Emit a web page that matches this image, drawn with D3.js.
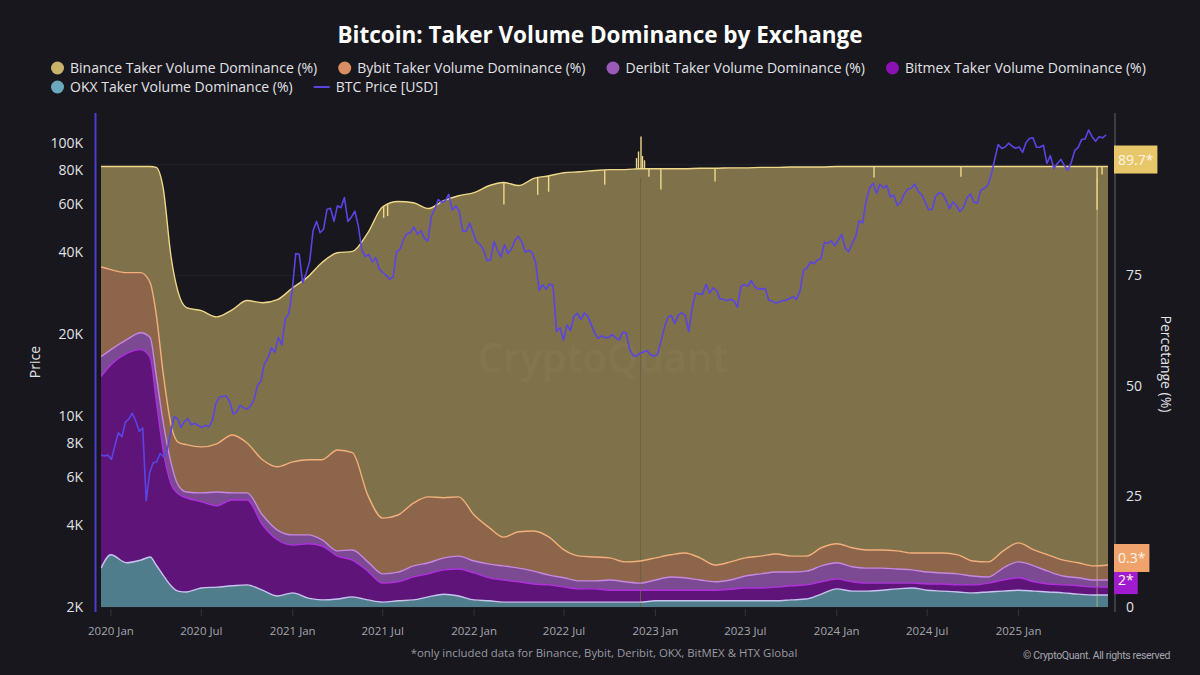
<!DOCTYPE html>
<html>
<head>
<meta charset="utf-8">
<script src="https://cdn.jsdelivr.net/npm/d3@7"></script>
<style>
    html, body { margin: 0; padding: 0; background: #17171d; }
    svg { display: block; font-family: "Open Sans", "Noto Sans", sans-serif; }
</style>
</head>
<body>
<svg id="chart" width="1200" height="675"></svg>
<script>
// ---- data ----
const domDates = [
    "2019-12-12", "2020-01-01", "2020-02-01", "2020-03-01", "2020-03-20", "2020-04-01", "2020-04-15",
    "2020-05-01", "2020-05-15", "2020-06-01", "2020-07-01", "2020-08-01", "2020-09-01", "2020-10-01",
    "2020-11-01", "2020-12-01", "2021-01-01", "2021-02-01", "2021-03-01", "2021-04-01", "2021-05-01",
    "2021-06-01", "2021-07-01", "2021-08-01", "2021-09-01", "2021-10-01", "2021-11-01", "2021-12-01",
    "2022-01-01", "2022-02-01", "2022-03-01", "2022-04-01", "2022-05-01", "2022-06-01", "2022-07-01",
    "2022-08-01", "2022-09-01", "2022-10-01", "2022-11-01", "2022-12-01", "2023-01-01", "2023-02-01",
    "2023-03-01", "2023-04-01", "2023-05-01", "2023-06-01", "2023-07-01", "2023-08-01", "2023-09-01",
    "2023-10-01", "2023-11-01", "2023-12-01", "2024-01-01", "2024-02-01", "2024-03-01", "2024-04-01",
    "2024-05-01", "2024-06-01", "2024-07-01", "2024-08-01", "2024-09-01", "2024-10-01", "2024-11-01",
    "2024-12-01", "2025-01-01", "2025-02-01", "2025-03-01", "2025-04-01", "2025-05-01", "2025-06-01",
    "2025-06-30"
];
const binance = [
    22.7, 23.3, 24.0, 24.0, 26.3, 33.1, 41.8, 38.0, 34.0, 31.0, 30.8, 28.7, 28.3, 32.2,
    35.5, 37.8, 39.4, 41.4, 44.6, 44.6, 45.5, 59.3, 70.4, 70.9, 67.9, 65.2, 67.2, 68.1,
    72.9, 77.4, 80.2, 78.3, 79.7, 81.7, 85.3, 86.9, 87.4, 87.8, 88.7, 88.7, 88.0, 87.3,
    86.9, 88.1, 89.7, 89.1, 88.2, 87.9, 87.4, 88.0, 88.0, 86.1, 85.3, 86.2, 86.7, 86.7,
    86.9, 87.4, 87.4, 87.4, 87.8, 89.2, 89.4, 86.9, 85.1, 86.7, 87.8, 89.0, 89.6, 90.3,
    90.1
];
const bybit = [
    20.3, 18.1, 15.2, 13.6, 12.4, 13.8, 11.1, 8.6, 9.7, 10.7, 10.4, 10.9, 13.1, 11.3,
    12.5, 14.3, 16.5, 17.0, 18.1, 22.8, 22.0, 15.1, 12.6, 12.9, 14.2, 14.9, 13.6, 13.4,
    10.4, 8.2, 6.5, 8.2, 9.1, 8.6, 6.3, 5.6, 5.4, 5.0, 4.5, 5.0, 5.0, 5.0,
    5.6, 5.0, 3.8, 4.1, 4.1, 4.0, 4.1, 3.6, 3.4, 4.1, 4.3, 4.3, 4.1, 4.1,
    4.1, 3.8, 4.3, 4.5, 4.3, 3.4, 3.4, 3.9, 4.3, 3.6, 3.7, 3.6, 3.4, 3.2,
    3.4
];
const deribit = [
    4.5, 3.4, 3.1, 3.8, 4.5, 5.7, 6.4, 4.8, 2.0, 1.3, 2.0, 3.1, 1.6, 1.6,
    2.2, 2.2, 2.3, 2.0, 1.4, 1.2, 2.3, 2.1, 2.1, 2.2, 2.5, 2.5, 2.7, 2.9,
    2.7, 3.1, 3.2, 3.1, 2.9, 2.2, 2.1, 1.8, 1.8, 2.3, 1.9, 1.6, 2.3, 3.0,
    2.8, 2.3, 1.9, 2.1, 2.7, 3.2, 3.4, 3.1, 3.1, 3.6, 3.7, 3.4, 3.4, 3.4,
    3.2, 3.0, 2.7, 2.5, 2.5, 2.0, 1.4, 2.7, 3.6, 3.6, 2.9, 2.0, 1.8, 1.6,
    1.6
];
const bitmex = [
    43.3, 43.0, 47.3, 47.6, 45.1, 37.3, 28.3, 23.0, 22.0, 21.3, 19.5, 18.4, 19.4, 19.2,
    14.8, 12.7, 10.8, 12.3, 12.2, 9.7, 8.3, 6.5, 4.3, 4.3, 5.2, 5.2, 5.5, 6.1,
    6.1, 5.2, 5.0, 4.6, 4.1, 3.9, 3.4, 3.0, 3.0, 2.7, 2.7, 2.7, 2.4, 2.4,
    2.4, 2.4, 2.4, 2.6, 2.9, 2.9, 3.1, 3.2, 3.2, 2.8, 2.2, 2.1, 1.8, 1.6,
    1.3, 1.1, 1.4, 1.6, 1.6, 1.8, 2.0, 2.5, 2.8, 2.1, 1.8, 1.8, 1.9, 1.8,
    1.8
];
const okx = [
    8.8, 11.8, 10.0, 10.6, 11.3, 9.5, 7.2, 4.8, 3.6, 3.4, 4.3, 4.5, 4.8, 5.0,
    3.8, 2.5, 3.2, 2.0, 1.6, 1.8, 2.3, 1.6, 1.1, 1.4, 1.6, 2.3, 2.9, 2.5,
    1.6, 1.4, 1.1, 1.1, 1.1, 1.1, 1.1, 1.1, 1.1, 1.1, 1.1, 1.1, 1.4, 1.4,
    1.4, 1.4, 1.4, 1.4, 1.4, 1.4, 1.4, 1.6, 1.8, 2.9, 4.1, 3.6, 3.6, 3.8,
    4.1, 4.3, 3.8, 3.6, 3.4, 3.2, 3.4, 3.6, 3.8, 3.6, 3.4, 3.2, 2.9, 2.7,
    2.7
];

// one-day glitches in the stacked total (%)
const spikeDates = [
    "2021-07-03", "2021-07-11", "2022-03-02", "2022-05-09", "2022-05-31", "2022-09-21",
    "2022-11-24", "2022-11-28", "2022-12-03", "2022-12-06", "2022-12-10", "2022-12-19",
    "2023-01-12", "2023-05-01", "2024-03-16", "2024-09-07", "2025-06-08", "2025-06-18"
];
const spikeValues = [
    88.0, 88.4, 91.0, 93.2, 93.9, 95.5,
    101.5, 103.0, 106.4, 102.0, 101.0, 97.3,
    94.4, 96.2, 97.1, 97.3, 89.8, 97.8
];

// BTC price, weekly closes in thousand USD, starting 2019-12-12
const priceStart = "2019-12-12";
const btcPrice = [
    // 2019 Dec
    7.2, 7.15, 7.2,
    // 2020
    6.95, 7.8, 8.7, 8.4, 9.5, 9.75, 10.25, 9.6, 8.8, 9.05, 4.9, 6.2, 6.75,
    6.8, 7.3, 7.1, 7.5, 8.65, 9.95, 9.8, 9.1, 9.55, 9.8, 9.3, 9.4, 9.25,
    9.1, 9.25, 9.15, 9.6, 11.1, 11.75, 11.8, 11.85, 11.3, 10.2, 10.35, 10.95, 10.75,
    10.6, 10.9, 11.5, 12.95, 13.45, 15.6, 16.3, 17.8, 17.15, 19.45, 18.25, 22.8, 23.7, 29.0,
    // 2021
    39.4, 39.2, 30.8, 33.4, 36.9, 47.9, 51.7, 47.0, 48.4, 57.3, 57.7, 51.7,
    59.0, 58.0, 63.2, 51.7, 53.6, 56.4, 49.7, 40.6, 38.4, 39.1, 36.7, 38.1, 34.7,
    33.6, 32.8, 31.8, 32.3, 40.0, 40.9, 44.4, 46.7, 47.0, 49.3, 46.4, 47.8, 44.9, 43.8,
    53.9, 57.4, 62.2, 60.6, 61.5, 64.9, 56.9, 58.9, 56.5, 47.6, 47.6, 51.0, 47.1,
    // 2022
    43.5, 42.6, 40.7, 37.2, 37.3, 43.6, 40.6, 38.3, 42.5, 39.4, 40.9, 43.9, 45.6,
    43.5, 39.9, 40.5, 39.7, 36.5, 28.9, 30.3, 29.2, 30.5, 30.1, 20.4, 21.1, 19.0,
    21.6, 20.6, 23.2, 23.8, 22.6, 23.9, 23.2, 21.6, 20.1, 19.3, 19.7, 19.4, 19.4,
    19.9, 19.4, 19.0, 20.3, 20.2, 17.6, 16.7, 16.6, 17.0, 17.2, 17.4, 16.8, 16.6,
    // 2023
    16.8, 18.8, 21.1, 23.0, 23.4, 21.8, 23.5, 23.9, 23.4, 20.4, 25.0, 28.3, 28.0,
    28.0, 30.4, 28.2, 29.5, 28.9, 26.9, 26.8, 26.5, 26.8, 26.5, 25.1, 29.9, 30.4,
    29.9, 31.4, 29.8, 29.2, 29.2, 29.4, 26.6, 26.4, 26.0, 26.2, 26.5, 26.6, 27.0,
    27.4, 26.8, 28.7, 34.2, 34.9, 36.7, 36.2, 37.3, 37.7, 43.3, 43.0, 43.9, 42.1,
    // 2024
    44.2, 46.3, 41.3, 40.0, 43.1, 45.3, 52.0, 51.0, 61.2, 68.3, 71.4, 65.5, 70.7,
    68.5, 70.0, 63.5, 64.5, 59.1, 60.8, 65.2, 67.9, 68.4, 70.8, 66.7, 64.8, 60.9,
    57.0, 57.3, 63.9, 65.8, 65.3, 61.7, 57.5, 61.0, 59.0, 56.2, 58.1, 63.0, 65.2,
    60.8, 60.3, 67.4, 68.2, 70.2, 76.6, 87.3, 98.9, 95.6, 96.9, 100.0, 97.5, 95.8,
    // 2025
    96.9, 92.5, 100.5, 104.0, 104.7, 96.6, 96.6, 98.3, 84.4, 90.0, 80.9, 84.2, 87.2,
    83.1, 79.6, 84.9, 93.9, 96.5, 103.2, 103.7, 111.7, 105.6, 101.6, 105.6, 104.6, 107.3
];

const priceTicks = [2000, 4000, 6000, 8000, 10000, 20000, 40000, 60000, 80000, 100000];
const pctTicks = [0, 25, 50, 75];
const gridTicks = [0, 25, 50, 75, 100];
const xTicks = ["2020-01-01", "2020-07-01", "2021-01-01", "2021-07-01", "2022-01-01", "2022-07-01",
    "2023-01-01", "2023-07-01", "2024-01-01", "2024-07-01", "2025-01-01"];
const lastLabels = { binance: "89.7*", bybit: "0.3*", bitmex: "2*" };

const series = [
    { key: "binance", name: "Binance Taker Volume Dominance (%)", fill: "#7f7149", line: "#efd88a", dot: "#c9b36b" },
    { key: "bybit", name: "Bybit Taker Volume Dominance (%)", fill: "#8c654b", line: "#f4b07c", dot: "#d98f63" },
    { key: "deribit", name: "Deribit Taker Volume Dominance (%)", fill: "#7b4a93", line: "#c887e2", dot: "#9c5ab8" },
    { key: "bitmex", name: "Bitmex Taker Volume Dominance (%)", fill: "#5f1479", line: "#b030e0", dot: "#8a12b5" },
    { key: "okx", name: "OKX Taker Volume Dominance (%)", fill: "#4f7d8b", line: "#c8c4f0", dot: "#6ca8bd" }
];
const priceColor = "#5a45e4";

// ---- setup ----
const svg = d3.select("#chart");
const parse = d3.timeParse("%Y-%m-%d");
const dates = domDates.map(parse);
const byKey = { binance, bybit, deribit, bitmex, okx };
const stackKeys = ["okx", "bitmex", "deribit", "bybit", "binance"];
const rows = dates.map((d, i) => {
    const r = { date: d };
    stackKeys.forEach(k => r[k] = byKey[k][i]);
    return r;
});
const stacked = d3.stack().keys(stackKeys)(rows);
const layer = k => stacked.find(s => s.key === k);

const plotTop = 113, plotBottom = 607, plotLeft = 101, plotRight = 1108;
const x = d3.scaleTime().domain([parse("2019-12-12"), parse("2025-06-30")]).range([plotLeft, plotRight]);
const yR = d3.scaleLinear().domain([0, 111.7]).range([plotBottom, plotTop]);
const yL = d3.scaleLog().domain([2000, 129000]).range([plotBottom, plotTop]);

svg.append("rect").attr("width", 1200).attr("height", 675).attr("fill", "#17171d");

svg.append("defs").append("clipPath").attr("id", "plotClip")
    .append("rect").attr("x", plotLeft).attr("y", plotTop - 2)
    .attr("width", plotRight - plotLeft).attr("height", plotBottom - plotTop + 2);

// grid (percent axis)
svg.append("g").selectAll("line").data(gridTicks).enter().append("line")
    .attr("x1", plotLeft).attr("x2", plotRight)
    .attr("y1", d => yR(d)).attr("y2", d => yR(d))
    .attr("stroke", "#22222a").attr("stroke-width", 1);

// stacked areas
const area = d3.area()
    .x(d => x(d.data.date)).y0(d => yR(d[0])).y1(d => yR(d[1]))
    .curve(d3.curveMonotoneX);
const topLine = d3.line()
    .x(d => x(d.data.date)).y(d => yR(d[1]))
    .curve(d3.curveMonotoneX);

const areaG = svg.append("g").attr("clip-path", "url(#plotClip)");
stackKeys.forEach(k => {
    const s = series.find(s => s.key === k);
    areaG.append("path").datum(layer(k)).attr("d", area).attr("fill", s.fill);
});

// glitch days that run through the whole stack
const fullDays = [{ date: "2022-12-02", color: "#6b6040", op: 0.9 }, { date: "2025-06-08", color: "#d8c98c", op: 0.6 }];
areaG.selectAll(".full-day").data(fullDays).enter().append("line")
    .attr("x1", d => x(parse(d.date))).attr("x2", d => x(parse(d.date)))
    .attr("y1", yR(0)).attr("y2", yR(97))
    .attr("stroke", d => d.color).attr("stroke-opacity", d => d.op).attr("stroke-width", 1);

// top lines of each band
stackKeys.slice().reverse().forEach(k => {
    const s = series.find(s => s.key === k);
    areaG.append("path").datum(layer(k)).attr("d", topLine)
        .attr("fill", "none").attr("stroke", s.line).attr("stroke-width", 1.4);
});

// spikes on the total
const totals = rows.map(r => stackKeys.reduce((a, k) => a + r[k], 0));
const bisect = d3.bisector(d => d).left;
function totalAt(date) {
    const i = Math.min(Math.max(bisect(dates, date), 1), dates.length - 1);
    const t = (date - dates[i - 1]) / (dates[i] - dates[i - 1]);
    return totals[i - 1] + (totals[i] - totals[i - 1]) * t;
}
areaG.selectAll(".spike").data(spikeDates.map((d, i) => ({ date: parse(d), v: spikeValues[i] })))
    .enter().append("line")
    .attr("class", "spike")
    .attr("x1", d => x(d.date)).attr("x2", d => x(d.date))
    .attr("y1", d => yR(totalAt(d.date))).attr("y2", d => yR(d.v))
    .attr("stroke", "#efd88a").attr("stroke-width", 1.4);

// watermark
svg.append("text").attr("x", 603).attr("y", 372).attr("text-anchor", "middle")
    .attr("font-size", 40).attr("font-weight", 600)
    .attr("fill", "#ffffff").attr("fill-opacity", 0.05)
    .text("CryptoQuant");

// BTC price
const priceData = btcPrice.map((v, i) => ({ date: d3.timeDay.offset(parse(priceStart), 7 * i), v: v * 1000 }));
svg.append("path").datum(priceData)
    .attr("clip-path", "url(#plotClip)")
    .attr("d", d3.line().x(d => x(d.date)).y(d => yL(d.v)))
    .attr("fill", "none").attr("stroke", priceColor).attr("stroke-width", 1.6)
    .attr("stroke-linejoin", "round");

// axes lines
svg.append("line").attr("x1", 95.5).attr("x2", 95.5).attr("y1", plotTop).attr("y2", plotBottom + 5)
    .attr("stroke", "#4b3dd2").attr("stroke-width", 2);
svg.append("line").attr("x1", 1115).attr("x2", 1115).attr("y1", plotTop).attr("y2", plotBottom + 5)
    .attr("stroke", "#4a4a52").attr("stroke-width", 1.5);

// left axis (price, log)
const fmtK = d => (d / 1000) + "K";
svg.append("g").selectAll("text").data(priceTicks).enter().append("text")
    .attr("x", 83).attr("y", d => yL(d)).attr("dy", "0.35em")
    .attr("text-anchor", "end").attr("font-size", 14).attr("fill", "#e2e2e6")
    .text(fmtK);
svg.append("text").attr("transform", "translate(40,362) rotate(-90)")
    .attr("text-anchor", "middle").attr("font-size", 14).attr("fill", "#e2e2e6").text("Price");

// right axis (percent)
svg.append("g").selectAll("text").data(pctTicks).enter().append("text")
    .attr("x", 1126).attr("y", d => yR(d)).attr("dy", "0.35em")
    .attr("font-size", 14).attr("fill", "#e2e2e6")
    .text(d => d);
svg.append("text").attr("transform", "translate(1161,364) rotate(90)")
    .attr("text-anchor", "middle").attr("font-size", 14).attr("fill", "#e2e2e6").text("Percetange (%)");

// x axis
const xt = svg.append("g").selectAll("g").data(xTicks.map(parse)).enter().append("g")
    .attr("transform", d => `translate(${x(d)},0)`);
xt.append("line").attr("y1", plotBottom + 2).attr("y2", plotBottom + 9).attr("stroke", "#34343c");
xt.append("text").attr("y", 635).attr("text-anchor", "middle")
    .attr("font-size", 11.5).attr("fill", "#a6a6ae")
    .text(d3.timeFormat("%Y %b"));

// last value labels
const lastIdx = rows.length - 1;
const labelOffset = -7;
const endLabels = [
    { key: "bitmex", text: lastLabels.bitmex, color: "#a21ccf" },
    { key: "bybit", text: lastLabels.bybit, color: "#f0a36c" },
    { key: "binance", text: lastLabels.binance, color: "#e7c769" }
];
endLabels.forEach(l => {
    const cy = yR(layer(l.key)[lastIdx][1]) + labelOffset;
    const g = svg.append("g").attr("transform", `translate(1114,${cy})`);
    const rect = g.append("rect").attr("y", -14).attr("height", 28).attr("fill", l.color);
    const t = g.append("text").attr("x", 4).attr("dy", "0.36em")
        .attr("font-size", 14).attr("fill", "#fdf6e6").text(l.text);
    rect.attr("width", t.node().getComputedTextLength() + 8);
});

// title
svg.append("text").attr("x", 600).attr("y", 43).attr("text-anchor", "middle")
    .attr("font-size", 22.5).attr("font-weight", 700).attr("fill", "#ffffff")
    .text("Bitcoin: Taker Volume Dominance by Exchange");

// legend
const legendItems = [
    ...series.map(s => ({ name: s.name, color: s.dot, type: "dot" })),
    { name: "BTC Price [USD]", color: priceColor, type: "line" }
];
const legendRows = [[0, 1, 2, 3], [4, 5]];
legendRows.forEach((row, ri) => {
    let cx = 51;
    const cy = 68 + ri * 19;
    row.forEach(i => {
        const it = legendItems[i];
        const g = svg.append("g").attr("transform", `translate(${cx},${cy})`);
        let tx;
        if (it.type === "dot") {
            g.append("circle").attr("cx", 6.5).attr("r", 6.5).attr("fill", it.color);
            tx = 19;
        } else {
            g.append("line").attr("x1", 0).attr("x2", 16).attr("stroke", it.color).attr("stroke-width", 2);
            tx = 22;
        }
        const t = g.append("text").attr("x", tx).attr("dy", "0.35em")
            .attr("font-size", 14).attr("fill", "#e2e2e6").text(it.name);
        cx += tx + t.node().getComputedTextLength() + 21;
    });
});

// footer
svg.append("text").attr("x", 604).attr("y", 657).attr("text-anchor", "middle")
    .attr("font-size", 11.4).attr("fill", "#9a9aa2")
    .text("*only included data for Binance, Bybit, Deribit, OKX, BitMEX & HTX Global");
svg.append("text").attr("x", 1170).attr("y", 659).attr("text-anchor", "end")
    .attr("font-family", "Roboto, sans-serif").attr("font-size", 10.5).attr("letter-spacing", -0.35)
    .attr("fill", "#a6a6ae")
    .text("\u00a9 CryptoQuant. All rights reserved");
</script>
</body>
</html>
